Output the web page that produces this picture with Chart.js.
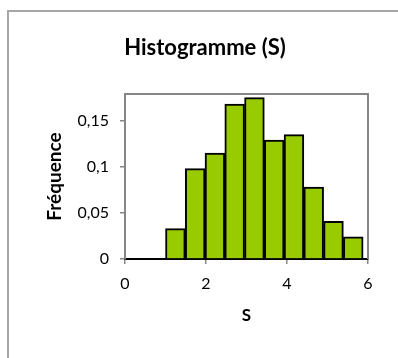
<!DOCTYPE html>
<html>
<head>
<meta charset="utf-8">
<script src="https://cdn.jsdelivr.net/npm/chart.js@4/dist/chart.umd.min.js"></script>
<style>
  body { margin: 0; background: #fff; }
  #wrap { width: 398px; height: 358px; }
</style>
</head>
<body>
<div id="wrap"><canvas id="myChart" width="398" height="358"></canvas></div>
<script>
// bin centres (width 0.488) and frequencies
const binCenters = [0.268, 0.756, 1.244, 1.732, 2.22, 2.708, 3.196, 3.684, 4.172, 4.66, 5.148, 5.636];
const frequencies = [0, 0, 0.033, 0.098, 0.115, 0.168, 0.175, 0.129, 0.135, 0.078, 0.041, 0.024];
const xTicks = [0, 2, 4, 6];
const yTicks = [0, 0.05, 0.1, 0.15];

const FONT = 'Lato, "Open Sans", sans-serif';

// grey frames: chart outline and plot area box
const frames = {
  id: 'frames',
  beforeDraw(chart) {
    const c = chart.ctx;
    c.save();
    c.strokeStyle = '#a6a6a6';
    c.lineWidth = 2;
    c.strokeRect(8, 11, 600, 600);
    c.restore();
  },
  afterDatasetsDraw(chart) {
    const c = chart.ctx, a = chart.chartArea;
    c.save();
    c.strokeStyle = '#868686';
    c.lineWidth = 2;
    c.beginPath();
    c.moveTo(a.left, a.bottom);
    c.lineTo(a.left, a.top);
    c.lineTo(a.right, a.top);
    c.lineTo(a.right, a.bottom);
    c.stroke();
    c.restore();
  }
};

let fmt = v => String(Math.round(v * 100) / 100).replace('.', ',');

var ctx = document.getElementById('myChart').getContext('2d');
var myChart = new Chart(ctx, {
  type: 'bar',
  data: {
    datasets: [{
      label: 'Fréquence',
      data: binCenters.map((x, i) => ({ x: x, y: frequencies[i] })),
      backgroundColor: '#99cc00',
      borderColor: '#000000',
      borderWidth: 2,
      barPercentage: 1,
      categoryPercentage: 1
    }]
  },
  options: {
    responsive: false,
    animation: false,
    devicePixelRatio: 1,
    layout: { padding: { left: 12, right: 0, top: 0, bottom: 0 } },
    plugins: {
      legend: { display: false },
      tooltip: { enabled: false },
      title: {
        display: true,
        text: 'Histogramme (S)',
        color: '#000',
        font: { family: FONT, size: 22, weight: 'bold', lineHeight: 1.2 },
        padding: { top: 34.3, bottom: 33.3 }
      }
    },
    scales: {
      x: {
        type: 'linear',
        min: 0,
        max: 6,
        offset: false,
        afterBuildTicks: s => { s.ticks = xTicks.map(v => ({ value: v })); },
        afterFit: s => { s.height = 99; },
        grid: { display: true, offset: false, drawOnChartArea: false, drawTicks: true, tickLength: 5, color: '#868686', lineWidth: 1.5 },
        border: { display: true, color: '#000', width: 2 },
        ticks: { color: '#000', padding: 10, maxRotation: 0, font: { family: FONT, size: 16 }, callback: v => fmt(v) },
        title: { display: true, text: 'S', color: '#000', padding: { top: 0, bottom: 32.5 }, font: { family: FONT, size: 17, weight: 'bold', lineHeight: 1.2 } }
      },
      y: {
        min: 0,
        max: 0.179,
        afterBuildTicks: s => { s.ticks = yTicks.map(v => ({ value: v })); },
        afterFit: s => { s.width = 113; },
        grid: { display: true, drawOnChartArea: false, drawTicks: true, tickLength: 5, color: '#868686', lineWidth: 1.5 },
        border: { display: true, color: '#868686', width: 2 },
        ticks: { color: '#000', padding: 11, font: { family: FONT, size: 16 }, callback: v => fmt(v) },
        title: { display: true, text: 'Fréquence', color: '#000', padding: { top: 31.9, bottom: 0 }, font: { family: FONT, size: 19, weight: 'bold', lineHeight: 1.2 } }
      },
      // empty right-hand box so the plot ends at x = 368
      yRight: {
        position: 'right',
        display: true,
        afterFit: s => { s.width = 30; },
        grid: { display: false },
        border: { display: false },
        ticks: { display: false }
      }
    }
  },
  plugins: [frames]
});
</script>
</body>
</html>
